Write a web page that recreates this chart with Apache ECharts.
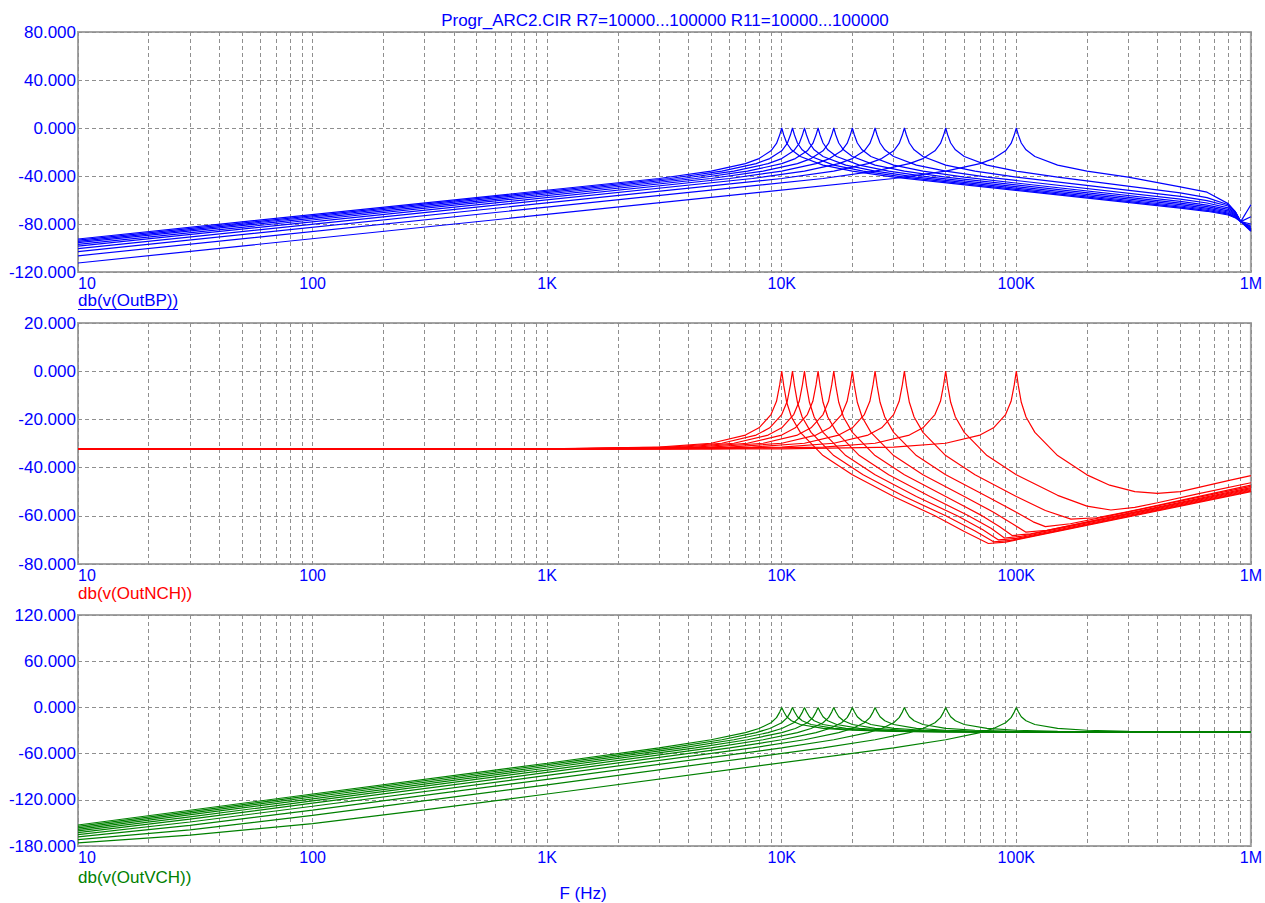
<!DOCTYPE html>
<html>
<head>
<meta charset="utf-8">
<script src="https://cdn.jsdelivr.net/npm/echarts@6.0.0/dist/echarts.min.js"></script>
<style>
html,body{margin:0;padding:0;background:#fff;}
#chart{width:1265px;height:903px;}
</style>
</head>
<body>
<div id="chart"></div>
<script>
// ---- tick labels ----
const xTickValues = [10, 100, 1000, 10000, 100000, 1000000];
const xTickLabels = ['10', '100', '1K', '10K', '100K', '1M'];
const titleText = 'Progr_ARC2.CIR R7=10000...100000 R11=10000...100000';
const panelNames = ['db(v(OutBP))', 'db(v(OutNCH))', 'db(v(OutVCH))'];
const xName = 'F (Hz)';

// ---- db(v(OutBP)) : [frequency Hz, dB] ----
const bp1 = [[10,-112.5],[30000,-42.1],[50000,-36.0],[70000,-29.7],[80000,-25.5],[90000,-19.0],[95000,-12.9],[98000,-5.9],[100000,0],[102000,-5.8],[105000,-12.5],[110000,-18.2],[120000,-23.8],[150000,-30.9],[200000,-36.0],[300000,-41.0],[500000,-49.0],[650000,-53.5],[800000,-63.0],[860000,-70.0],[905000,-78.0],[1000000,-64.0]];
const bp2 = [[10,-106.5],[15000,-42.1],[25000,-36.0],[35000,-29.7],[40000,-25.5],[45000,-19.0],[47500,-12.9],[49000,-5.9],[50000,0],[51000,-5.8],[52500,-12.5],[55000,-18.2],[60000,-23.8],[75000,-30.9],[100000,-36.0],[150000,-41.0],[500000,-54.0],[650000,-58.0],[800000,-64.0],[860000,-70.0],[905000,-78.0],[1000000,-74.0]];
const bp3 = [[10,-103.0],[10000,-42.1],[16667,-36.0],[23333,-29.7],[26667,-25.5],[30000,-19.0],[31667,-12.9],[32667,-5.9],[33333,0],[34000,-5.8],[35000,-12.5],[36667,-18.2],[40000,-23.8],[50000,-30.9],[66667,-36.0],[100000,-41.0],[500000,-57.0],[650000,-60.5],[800000,-65.0],[860000,-70.5],[905000,-78.0],[1000000,-80.0]];
const bp4 = [[10,-100.5],[7500,-42.1],[12500,-36.0],[17500,-29.7],[20000,-25.5],[22500,-19.0],[23750,-12.9],[24500,-5.9],[25000,0],[25500,-5.8],[26250,-12.5],[27500,-18.2],[30000,-23.8],[37500,-30.9],[50000,-36.0],[75000,-41.0],[500000,-59.3],[650000,-62.5],[800000,-66.5],[860000,-71.3],[905000,-78.0],[1000000,-82.0]];
const bp5 = [[10,-98.5],[6000,-42.1],[10000,-36.0],[14000,-29.7],[16000,-25.5],[18000,-19.0],[19000,-12.9],[19600,-5.9],[20000,0],[20400,-5.8],[21000,-12.5],[22000,-18.2],[24000,-23.8],[30000,-30.9],[40000,-36.0],[60000,-41.0],[500000,-61.2],[650000,-64.2],[800000,-67.8],[860000,-72.0],[905000,-78.0],[1000000,-83.0]];
const bp6 = [[10,-96.9],[5000,-42.1],[8333,-36.0],[11667,-29.7],[13333,-25.5],[15000,-19.0],[15833,-12.9],[16333,-5.9],[16667,0],[17000,-5.8],[17500,-12.5],[18333,-18.2],[20000,-23.8],[25000,-30.9],[33333,-36.0],[50000,-41.0],[500000,-62.6],[650000,-65.5],[800000,-69.0],[860000,-72.7],[905000,-78.0],[1000000,-84.0]];
const bp7 = [[10,-95.6],[4286,-42.1],[7143,-36.0],[10000,-29.7],[11429,-25.5],[12857,-19.0],[13571,-12.9],[14000,-5.9],[14286,0],[14571,-5.8],[15000,-12.5],[15714,-18.2],[17143,-23.8],[21429,-30.9],[28571,-36.0],[42857,-41.0],[500000,-63.9],[650000,-66.7],[800000,-70.0],[860000,-73.3],[905000,-78.0],[1000000,-84.5]];
const bp8 = [[10,-94.4],[3750,-42.1],[6250,-36.0],[8750,-29.7],[10000,-25.5],[11250,-19.0],[11875,-12.9],[12250,-5.9],[12500,0],[12750,-5.8],[13125,-12.5],[13750,-18.2],[15000,-23.8],[18750,-30.9],[25000,-36.0],[37500,-41.0],[500000,-65.0],[650000,-67.7],[800000,-71.0],[860000,-74.0],[905000,-78.0],[1000000,-85.0]];
const bp9 = [[10,-93.4],[3333,-42.1],[5556,-36.0],[7778,-29.7],[8889,-25.5],[10000,-19.0],[10556,-12.9],[10889,-5.9],[11111,0],[11333,-5.8],[11667,-12.5],[12222,-18.2],[13333,-23.8],[16667,-30.9],[22222,-36.0],[33333,-41.0],[500000,-66.0],[650000,-68.6],[800000,-71.8],[860000,-74.5],[905000,-78.0],[1000000,-85.5]];
const bp10 = [[10,-92.5],[3000,-42.1],[5000,-36.0],[7000,-29.7],[8000,-25.5],[9000,-19.0],[9500,-12.9],[9800,-5.9],[10000,0],[10200,-5.8],[10500,-12.5],[11000,-18.2],[12000,-23.8],[15000,-30.9],[20000,-36.0],[30000,-41.0],[500000,-66.8],[650000,-69.4],[800000,-72.5],[860000,-75.0],[905000,-78.0],[1000000,-86.0]];

// ---- db(v(OutNCH)) ----
const nch1 = [[10,-32.3],[10000,-32.2],[30000,-31.5],[50000,-29.9],[70000,-26.5],[80000,-23.5],[90000,-18.0],[95000,-12.5],[98000,-5.7],[100000,0],[102000,-6.0],[105000,-12.9],[110000,-19.0],[120000,-25.4],[150000,-35.0],[200000,-43.0],[250000,-47.3],[320000,-50.0],[400000,-50.7],[500000,-50.0],[600000,-48.2],[800000,-45.4],[1000000,-43.3]];
const nch2 = [[10,-32.3],[5000,-32.2],[15000,-31.5],[25000,-29.9],[35000,-26.5],[40000,-23.5],[45000,-18.0],[47500,-12.5],[49000,-5.7],[50000,0],[51000,-6.0],[52500,-12.9],[55000,-19.0],[60000,-25.4],[75000,-35.0],[100000,-43.0],[150000,-51.5],[200000,-56.0],[253000,-57.6],[320000,-56.5],[400000,-54.6],[600000,-50.8],[1000000,-46.3]];
const nch3 = [[10,-32.3],[3333,-32.2],[10000,-31.5],[16667,-29.9],[23333,-26.5],[26667,-23.5],[30000,-18.0],[31667,-12.5],[32667,-5.7],[33333,0],[34000,-6.0],[35000,-12.9],[36667,-19.0],[40000,-25.4],[50000,-35.0],[66667,-43.0],[100000,-52.0],[133000,-57.8],[171000,-61.4],[220000,-60.8],[300000,-58.3],[1000000,-47.3]];
const nch4 = [[10,-32.3],[2500,-32.2],[7500,-31.5],[12500,-29.9],[17500,-26.5],[20000,-23.5],[22500,-18.0],[23750,-12.5],[24500,-5.7],[25000,0],[25500,-6.0],[26250,-12.9],[27500,-19.0],[30000,-25.4],[37500,-35.0],[50000,-43.0],[75000,-52.0],[100000,-58.5],[118000,-62.5],[133000,-64.5],[170000,-63.3],[250000,-60.0],[1000000,-47.8]];
const nch5 = [[10,-32.3],[2000,-32.2],[6000,-31.5],[10000,-29.9],[14000,-26.5],[16000,-23.5],[18000,-18.0],[19000,-12.5],[19600,-5.7],[20000,0],[20400,-6.0],[21000,-12.9],[22000,-19.0],[24000,-25.4],[30000,-35.0],[40000,-43.0],[60000,-52.0],[80000,-58.5],[97000,-63.5],[110000,-66.8],[135000,-66.0],[1000000,-48.3]];
const nch6 = [[10,-32.3],[1667,-32.2],[5000,-31.5],[8333,-29.9],[11667,-26.5],[13333,-23.5],[15000,-18.0],[15833,-12.5],[16333,-5.7],[16667,0],[17000,-6.0],[17500,-12.9],[18333,-19.0],[20000,-25.4],[25000,-35.0],[33333,-43.0],[50000,-52.0],[70000,-59.5],[85000,-64.5],[96000,-68.2],[115000,-67.5],[1000000,-48.7]];
const nch7 = [[10,-32.3],[1429,-32.2],[4286,-31.5],[7143,-29.9],[10000,-26.5],[11429,-23.5],[12857,-18.0],[13571,-12.5],[14000,-5.7],[14286,0],[14571,-6.0],[15000,-12.9],[15714,-19.0],[17143,-25.4],[21429,-35.0],[28571,-43.0],[42857,-52.0],[62000,-59.8],[78000,-65.2],[89000,-69.2],[105000,-68.5],[1000000,-49.1]];
const nch8 = [[10,-32.3],[1250,-32.2],[3750,-31.5],[6250,-29.9],[8750,-26.5],[10000,-23.5],[11250,-18.0],[11875,-12.5],[12250,-5.7],[12500,0],[12750,-6.0],[13125,-12.9],[13750,-19.0],[15000,-25.4],[18750,-35.0],[25000,-43.0],[37500,-52.0],[56000,-60.0],[72000,-65.8],[84000,-70.0],[100000,-69.4],[1000000,-49.4]];
const nch9 = [[10,-32.3],[1111,-32.2],[3333,-31.5],[5556,-29.9],[7778,-26.5],[8889,-23.5],[10000,-18.0],[10556,-12.5],[10889,-5.7],[11111,0],[11333,-6.0],[11667,-12.9],[12222,-19.0],[13333,-25.4],[16667,-35.0],[22222,-43.0],[33333,-52.0],[50000,-60.0],[66700,-66.3],[80000,-70.8],[95000,-70.2],[1000000,-49.7]];
const nch10 = [[10,-32.3],[1000,-32.2],[3000,-31.5],[5000,-29.9],[7000,-26.5],[8000,-23.5],[9000,-18.0],[9500,-12.5],[9800,-5.7],[10000,0],[10200,-6.0],[10500,-12.9],[11000,-19.0],[12000,-25.4],[15000,-35.0],[20000,-43.0],[30000,-52.0],[45000,-60.0],[60000,-66.5],[76000,-71.5],[90000,-70.9],[1000000,-50.0]];

// ---- db(v(OutVCH)) ----
const vch1 = [[10,-176.0],[30,-165.8],[100,-150.9],[300,-133.2],[1000,-112.5],[30000,-52.6],[50000,-42.0],[70000,-32.8],[80000,-27.4],[90000,-19.9],[95000,-13.3],[98000,-6.1],[100000,0],[102000,-5.6],[105000,-12.1],[110000,-17.4],[120000,-22.2],[150000,-27.2],[200000,-29.7],[300000,-31.1],[500000,-31.7],[1000000,-32.0]];
const vch2 = [[10,-171.8],[30,-159.1],[100,-140.2],[1000,-100.5],[15000,-52.6],[25000,-42.0],[35000,-32.8],[40000,-27.4],[45000,-19.9],[47500,-13.3],[49000,-6.1],[50000,0],[51000,-5.6],[52500,-12.1],[55000,-17.4],[60000,-22.2],[75000,-27.2],[100000,-29.7],[150000,-31.1],[250000,-31.7],[1000000,-32.0]];
const vch3 = [[10,-168.2],[30,-153.3],[100,-133.3],[1000,-93.4],[10000,-52.6],[16667,-42.0],[23333,-32.8],[26667,-27.4],[30000,-19.9],[31667,-13.3],[32667,-6.1],[33333,0],[34000,-5.6],[35000,-12.1],[36667,-17.4],[40000,-22.2],[50000,-27.2],[66667,-29.7],[100000,-31.1],[166667,-31.7],[1000000,-32.0]];
const vch4 = [[10,-165.2],[30,-148.8],[100,-128.4],[1000,-88.4],[7500,-52.6],[12500,-42.0],[17500,-32.8],[20000,-27.4],[22500,-19.9],[23750,-13.3],[24500,-6.1],[25000,0],[25500,-5.6],[26250,-12.1],[27500,-17.4],[30000,-22.2],[37500,-27.2],[50000,-29.7],[75000,-31.1],[125000,-31.7],[1000000,-32.0]];
const vch5 = [[10,-162.6],[30,-145.1],[100,-124.4],[1000,-84.5],[6000,-52.6],[10000,-42.0],[14000,-32.8],[16000,-27.4],[18000,-19.9],[19000,-13.3],[19600,-6.1],[20000,0],[20400,-5.6],[21000,-12.1],[22000,-17.4],[24000,-22.2],[30000,-27.2],[40000,-29.7],[60000,-31.1],[100000,-31.7],[1000000,-32.0]];
const vch6 = [[10,-160.4],[30,-142.2],[100,-121.4],[1000,-81.4],[5000,-52.6],[8333,-42.0],[11667,-32.8],[13333,-27.4],[15000,-19.9],[15833,-13.3],[16333,-6.1],[16667,0],[17000,-5.6],[17500,-12.1],[18333,-17.4],[20000,-22.2],[25000,-27.2],[33333,-29.7],[50000,-31.1],[83333,-31.7],[1000000,-32.0]];
const vch7 = [[10,-158.3],[100,-118.7],[1000,-78.7],[4286,-52.6],[7143,-42.0],[10000,-32.8],[11429,-27.4],[12857,-19.9],[13571,-13.3],[14000,-6.1],[14286,0],[14571,-5.6],[15000,-12.1],[15714,-17.4],[17143,-22.2],[21429,-27.2],[28571,-29.7],[42857,-31.1],[71429,-31.7],[1000000,-32.0]];
const vch8 = [[10,-156.4],[100,-116.4],[1000,-76.4],[3750,-52.6],[6250,-42.0],[8750,-32.8],[10000,-27.4],[11250,-19.9],[11875,-13.3],[12250,-6.1],[12500,0],[12750,-5.6],[13125,-12.1],[13750,-17.4],[15000,-22.2],[18750,-27.2],[25000,-29.7],[37500,-31.1],[62500,-31.7],[1000000,-32.0]];
const vch9 = [[10,-154.4],[100,-114.3],[1000,-74.3],[3333,-52.6],[5556,-42.0],[7778,-32.8],[8889,-27.4],[10000,-19.9],[10556,-13.3],[10889,-6.1],[11111,0],[11333,-5.6],[11667,-12.1],[12222,-17.4],[13333,-22.2],[16667,-27.2],[22222,-29.7],[33333,-31.1],[55556,-31.7],[1000000,-32.0]];
const vch10 = [[10,-152.7],[100,-112.5],[1000,-72.5],[3000,-52.6],[5000,-42.0],[7000,-32.8],[8000,-27.4],[9000,-19.9],[9500,-13.3],[9800,-6.1],[10000,0],[10200,-5.6],[10500,-12.1],[11000,-17.4],[12000,-22.2],[15000,-27.2],[20000,-29.7],[30000,-31.1],[50000,-31.7],[1000000,-32.0]];

const bpCurves = [bp1, bp2, bp3, bp4, bp5, bp6, bp7, bp8, bp9, bp10];
const nchCurves = [nch1, nch2, nch3, nch4, nch5, nch6, nch7, nch8, nch9, nch10];
const vchCurves = [vch1, vch2, vch3, vch4, vch5, vch6, vch7, vch8, vch9, vch10];

// ---- y axis ranges ----
const yRanges = [
  {min: -120, max: 80, interval: 40},
  {min: -80, max: 20, interval: 20},
  {min: -180, max: 120, interval: 60}
];

// ---- styling / layout ----
const BLUE = '#0000ff', RED = '#ff0000', GREEN = '#008000';
const FONT = '"Liberation Sans", Arial, Helvetica, sans-serif';
const gridLayout = [
  {left: 78, top: 32, width: 1175, height: 240},
  {left: 78, top: 323, width: 1175, height: 241},
  {left: 78, top: 615, width: 1175, height: 231}
];
const gridLine = {color: '#8f8f8f', width: 1, type: [4, 3]};

const chart = echarts.init(document.getElementById('chart'), null, {renderer: 'svg'});

const xAxes = gridLayout.map((g, i) => ({
  type: 'log', logBase: 10, gridIndex: i, min: 10, max: 1000000,
  axisLine: {show: false}, axisTick: {show: false},
  axisLabel: {
    color: BLUE, fontSize: 16, fontFamily: FONT, margin: 3,
    alignMinLabel: 'left',
    formatter: v => { const k = xTickValues.indexOf(Math.round(v)); return k >= 0 ? xTickLabels[k] : ''; }
  },
  splitLine: {show: true, lineStyle: gridLine},
  minorTick: {show: false, splitNumber: 9},
  minorSplitLine: {show: true, lineStyle: gridLine}
}));

const yAxes = yRanges.map((r, i) => ({
  type: 'value', gridIndex: i, min: r.min, max: r.max, interval: r.interval,
  axisLine: {show: false}, axisTick: {show: false},
  axisLabel: {color: BLUE, fontSize: 17, fontFamily: FONT, margin: 2, formatter: v => v.toFixed(3)},
  splitLine: {show: true, lineStyle: gridLine}
}));

const series = [];
[[bpCurves, BLUE], [nchCurves, RED], [vchCurves, GREEN]].forEach(([curves, color], i) => {
  curves.forEach((d, j) => {
    series.push({
      type: 'line', name: panelNames[i] + ' ' + (j + 1), xAxisIndex: i, yAxisIndex: i,
      data: d, showSymbol: false, symbol: 'none', smooth: false, silent: true,
      lineStyle: {color: color, width: 1.2}, z: 3
    });
  });
});

const textStyle = (x, y, text, fill, align) => ({
  type: 'text', silent: true,
  style: {x: x, y: y, text: text, fill: fill, font: '17px ' + FONT, align: align || 'left', verticalAlign: 'middle'}
});

chart.setOption({
  animation: false,
  backgroundColor: '#ffffff',
  grid: gridLayout.map(g => Object.assign({show: true, borderColor: '#a3a3a3', borderWidth: 2, backgroundColor: 'transparent'}, g)),
  xAxis: xAxes,
  yAxis: yAxes,
  series: series,
  graphic: [
    textStyle(665, 20, titleText, BLUE, 'center'),
    textStyle(78, 300, panelNames[0], BLUE),
    {type: 'line', silent: true, shape: {x1: 78, y1: 309.5, x2: 178, y2: 309.5}, style: {stroke: BLUE, lineWidth: 1}},
    textStyle(78, 593, panelNames[1], RED),
    textStyle(78, 877, panelNames[2], GREEN),
    textStyle(583, 893, xName, BLUE, 'center')
  ]
});
</script>
</body>
</html>
